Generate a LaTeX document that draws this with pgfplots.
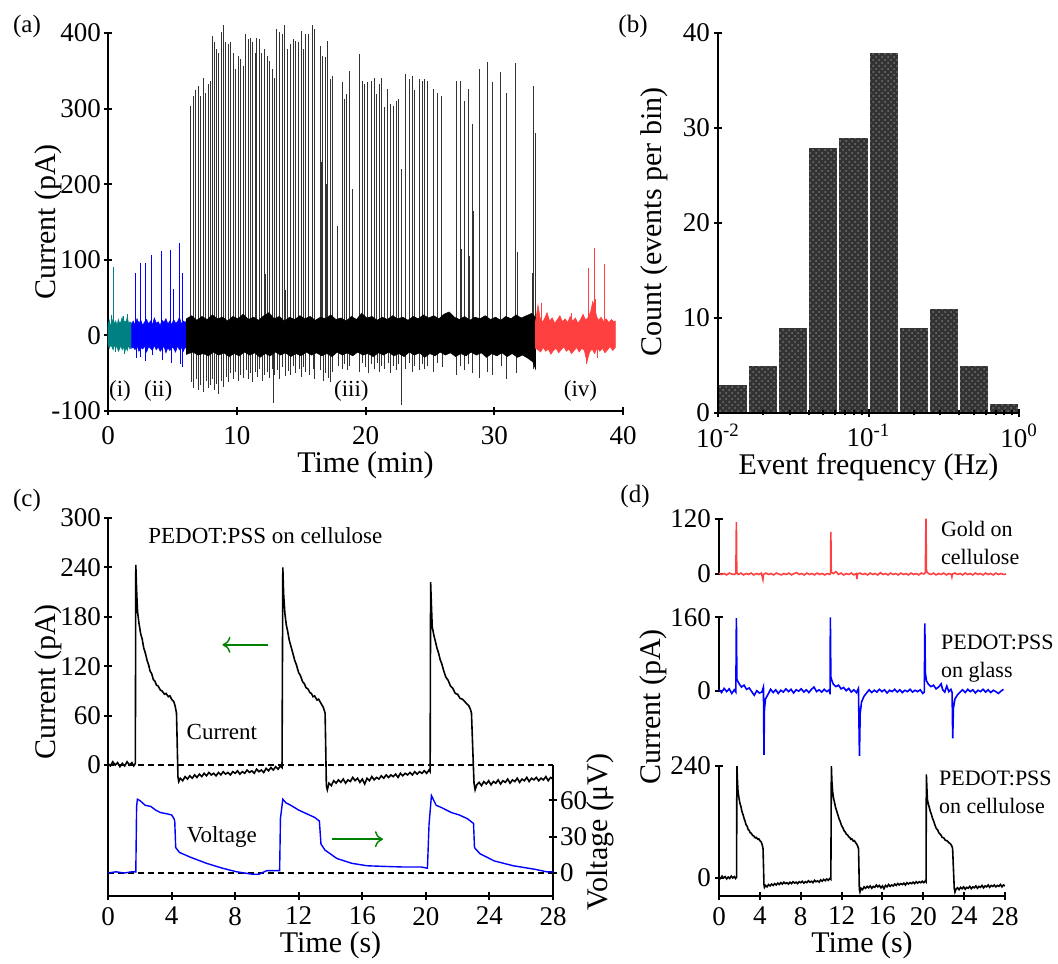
\documentclass[border=0pt]{standalone}
\usepackage{fontspec}
\setmainfont{Liberation Serif}
\usepackage{pgfplots}
\pgfplotsset{compat=1.18}
\usepackage{pgfplotstable}
\usetikzlibrary{patterns,arrows.meta}

\definecolor{tealc}{RGB}{0,128,128}
\definecolor{redc}{RGB}{255,64,64}
\definecolor{greenc}{RGB}{0,128,0}
\newcommand\fL{\fontsize{15}{18}\selectfont}
\newcommand\fT{\fontsize{13.5}{16}\selectfont}
\newcommand\fA{\fontsize{11.5}{14}\selectfont}
\newcommand\fD{\fontsize{11}{14}\selectfont}
\newcommand\fP{\fontsize{12.5}{15}\selectfont}

\pgfplotsset{
  pnl/.style={
    scale only axis, anchor=south west, clip=false,
    axis line style={line width=1pt,-},
    tick align=inside, tick style={black, line width=1pt},
    major tick length=4pt, minor tick length=2.5pt,
    tick label style={font=\fT},
    /pgf/number format/assume math mode=true,
    /pgf/number format/1000 sep={},
  },
  noarr/.style={
    every outer x axis line/.append style={-},
    every outer y axis line/.append style={-},
    every inner x axis line/.append style={-},
    every inner y axis line/.append style={-},
    x axis line style={-}, y axis line style={-},
  }
}

% current trace, PEDOT:PSS on cellulose (pA vs s)
\pgfplotstableread{
t I
0 2
0.15 -1
0.3 4
0.45 0
0.6 3
0.75 -2
0.9 2
1.05 -1
1.2 4
1.35 0
1.5 3
1.62 -1
1.72 2
1.75 243
1.8 212
1.86 186
1.95 172
2.05 160
2.15 153
2.25 142
2.35 136
2.46 127
2.55 122
2.65 114
2.75 111
2.85 104
2.95 102
3.05 97
3.15 96
3.3 91
3.4 90
3.55 86
3.65 87
3.8 83
3.9 84
4.0 80
4.14 77
4.22 72
4.31 63
4.35 30
4.4 -14
4.45 -20
4.55 -16
4.7 -19
4.85 -14
5.0 -17
5.15 -13
5.3 -16
5.45 -12
5.6 -15
5.75 -11
5.9 -14
6.05 -10
6.2 -13
6.35 -9
6.5 -12
6.65 -10
6.8 -13
6.95 -9
7.1 -12
7.25 -8
7.4 -11
7.55 -9
7.7 -12
7.85 -8
8.0 -10
8.15 -7
8.3 -11
8.45 -8
8.6 -10
8.75 -6
8.9 -9
9.05 -7
9.2 -10
9.35 -5
9.5 -8
9.65 -6
9.8 -9
9.95 -4
10.1 -7
10.25 -3
10.4 -6
10.55 -2
10.7 -5
10.85 -1
10.95 -3
11.0 240
11.05 208
11.13 184
11.22 170
11.3 163
11.4 152
11.5 145
11.6 138
11.75 127
11.85 122
12.0 112
12.1 109
12.25 101
12.35 99
12.46 94
12.6 92
12.7 88
12.8 87
12.9 83
13.0 84
13.15 79
13.25 80
13.4 75
13.55 70
13.66 63
13.7 20
13.74 -25
13.8 -30
13.9 -22
14.05 -25
14.2 -19
14.35 -22
14.5 -18
14.65 -21
14.8 -17
14.95 -22
15.1 -18
15.25 -20
15.4 -15
15.55 -19
15.7 -16
15.85 -21
16.0 -17
16.15 -23
16.3 -16
16.45 -19
16.6 -14
16.75 -18
16.9 -15
17.05 -17
17.2 -13
17.35 -16
17.5 -12
17.65 -15
17.8 -12
17.95 -14
18.1 -11
18.25 -15
18.4 -10
18.55 -13
18.7 -10
18.85 -12
19.0 -9
19.15 -12
19.3 -8
19.45 -11
19.6 -8
19.75 -10
19.9 -7
20.05 -10
20.2 -6
20.27 -8
20.3 222
20.35 194
20.4 168
20.5 158
20.6 150
20.7 142
20.8 136
20.9 128
21.0 123
21.1 116
21.25 107
21.4 103
21.55 96
21.7 93
21.85 87
22.0 86
22.15 81
22.3 80
22.45 77
22.6 74
22.7 72
22.8 68
22.87 63
22.95 20
23.03 -22
23.1 -30
23.2 -24
23.35 -21
23.5 -25
23.65 -20
23.8 -23
23.95 -19
24.1 -24
24.25 -20
24.4 -22
24.55 -18
24.7 -23
24.85 -19
25.0 -21
25.15 -17
25.3 -22
25.45 -18
25.6 -20
25.75 -16
25.9 -21
26.05 -17
26.2 -19
26.35 -15
26.5 -20
26.65 -16
26.8 -18
26.95 -15
27.1 -19
27.25 -16
27.4 -18
27.55 -14
27.7 -19
27.85 -15
28.0 -17
}\curtrace

% voltage trace (uV vs s)
\pgfplotstableread{
t V
0 0
0.5 1
1.0 0
1.5 1
1.75 1
1.8 55
1.85 61
2.0 60
2.34 56
2.7 55
3.0 52
3.3 50
3.7 49
4.0 48
4.15 45
4.2 43
4.26 21
4.5 17
5.2 13
6.2 8
7.2 4
8.1 1
9.1 -1
9.5 -1
10.0 2
10.8 2
10.85 45
11.0 61
11.2 58
11.5 56
12.0 52
12.5 49
13.0 46
13.3 43
13.4 24
13.65 19
14.4 12
15.35 8
16.3 6
17.3 5.5
18.5 5
19.7 5
20.1 4
20.2 40
20.35 64
20.5 60
20.65 56
21.0 54
21.6 50
22.1 48
22.6 45
23.0 41
23.06 21
23.4 16
24.3 10
25.5 6
26.9 3
27.6 1
28.0 1
}\volttrace

\begin{document}
\begin{tikzpicture}
\useasboundingbox (0,0) rectangle (529pt,481.5pt);

% ---------------- (a) ----------------
\begin{axis}[pnl, at={(54pt,276pt)}, width=257.5pt, height=189pt,
  axis x line=bottom, axis y line=left,
  xmin=0, xmax=40, ymin=-100, ymax=400,
  xtick={0,10,...,40}, ytick={-100,0,...,400},
  xticklabel style={yshift=-2pt}, yticklabel style={xshift=2pt}, noarr]
% spikes
\addplot[ycomb, tealc, line width=0.5pt] coordinates {(0.4,90) (0.3,27) (1.2,26) (1.5,28) (0.6,-22) (1.3,-24)};
\addplot[ycomb, blue, line width=0.5pt] coordinates {(2.17,83) (2.53,96) (2.95,96) (3.41,107) (4.16,111) (4.86,113) (5.12,62) (5.58,122) (5.79,83)
  (2.2,-30) (2.55,-28) (2.95,-34) (3.45,-26) (4.2,-32) (4.9,-36) (5.6,-38) (5.8,-42)};
\addplot[ycomb, black!80, line width=0.5pt] coordinates {
  (6.41,304) (6.61,317) (6.82,324) (7.0,330) (7.18,317) (7.39,341) (7.6,321) (7.78,332) (7.96,337) (8.09,396)
  (8.24,388) (8.42,379) (8.6,374) (8.81,401) (8.94,410) (9.15,388) (9.35,385) (9.51,388) (9.72,374) (9.9,352)
  (10.1,370) (10.29,366) (10.49,357) (10.7,399) (10.88,392) (11.06,394) (11.22,388) (11.42,374) (11.57,394) (11.78,392)
  (11.96,374) (12.17,379) (12.35,370) (12.56,363) (12.74,352) (12.95,341) (13.12,405) (13.33,401) (13.54,399) (13.74,410)
  (13.98,379) (14.19,385) (14.37,392) (14.57,390) (14.83,388) (15.01,403) (15.19,379) (15.35,399) (15.61,399) (15.92,410)
  (16.05,405) (16.49,383) (16.69,370) (16.9,368) (17.08,390) (17.26,339) (17.42,343) (17.85,145) (18.19,335) (18.37,313)
  (18.55,319) (18.76,350) (19.02,193) (19.53,372) (19.74,337) (19.95,332) (20.18,335) (20.44,337) (20.7,341) (20.88,319)
  (21.09,332) (21.26,341) (21.47,302) (21.73,326) (21.96,306) (22.17,304) (22.38,310) (22.56,313) (22.77,220) (23.1,346)
  (23.41,339) (23.62,343) (23.82,324) (24.19,339) (24.4,337) (24.57,339) (24.83,337) (25.3,326) (25.61,321) (25.94,317)
  (27.03,337) (27.34,337) (27.47,114) (27.67,310) (28.01,326) (28.06,105) (28.32,279) (28.4,165) (28.84,352) (29.48,361)
  (29.87,335) (30.52,349) (30.95,321) (31.68,360) (31.81,110) (32.97,83) (33.05,330) (33.23,268)
  (8.3,145) (11.5,151) (12.25,81) (16.6,230) (17.0,200) (17.3,120) (19.8,86) (13.8,60)
  (6.45,-62) (6.65,-70) (6.85,-58) (7.02,-72) (7.2,-65) (7.4,-75) (7.62,-60) (7.8,-70) (7.98,-66) (8.1,-58)
  (8.26,-72) (8.44,-64) (8.6,-78) (8.82,-60) (8.96,-68) (9.17,-55) (9.37,-62) (9.53,-50) (9.74,-58) (9.92,-48)
  (10.12,-60) (10.3,-52) (10.5,-56) (10.72,-46) (10.9,-58) (11.08,-50) (11.24,-62) (11.44,-48) (11.59,-55) (11.8,-45)
  (11.98,-60) (12.19,-52) (12.37,-48) (12.58,-56) (12.76,-44) (12.85,-90) (12.97,-52) (13.14,-46) (13.35,-58) (13.56,-42)
  (13.76,-54) (14.0,-47) (14.21,-52) (14.39,-40) (14.59,-50) (14.85,-45) (15.03,-55) (15.21,-42) (15.37,-48) (15.63,-52)
  (15.94,-44) (16.07,-58) (16.51,-46) (16.71,-60) (16.92,-50) (17.1,-56) (17.28,-62) (17.44,-48) (17.87,-40) (18.21,-44)
  (18.39,-38) (18.57,-46) (18.78,-40) (19.55,-48) (19.76,-36) (19.97,-42) (20.2,-50) (20.46,-38) (20.72,-44) (20.9,-36)
  (21.11,-48) (21.28,-40) (21.49,-45) (21.75,-36) (21.98,-50) (22.19,-40) (22.4,-46) (22.58,-38) (22.8,-92) (23.12,-44)
  (23.43,-36) (23.64,-48) (23.84,-40) (24.21,-46) (24.42,-38) (24.59,-44) (24.85,-40) (25.32,-48) (25.63,-36) (25.96,-42)
  (27.05,-52) (27.36,-40) (27.69,-46) (28.03,-38) (28.34,-50) (28.86,-56) (29.5,-48) (29.89,-52) (30.54,-40) (30.97,-58)
  (31.7,-50) (33.07,-45)};
\addplot[ycomb, redc, line width=0.5pt] coordinates {(33.65,43) (37.35,89) (37.75,116) (37.9,48) (38.6,94) (36.0,30) (37.2,-38) (38.0,-30)};
% noise bands
\addplot[fill=tealc, draw=tealc, line width=0.3pt] coordinates {
  (0,14) (0.1,20) (0.2,12) (0.3,18) (0.4,22) (0.5,15) (0.6,19) (0.7,13) (0.8,21) (0.9,16) (1.0,18) (1.1,24) (1.2,14)
  (1.3,19) (1.4,17) (1.5,25) (1.6,15) (1.7,18) (1.84,16)
  (1.84,-14) (1.7,-18) (1.6,-13) (1.5,-20) (1.4,-16) (1.3,-22) (1.2,-15) (1.1,-19) (1.0,-13) (0.9,-18) (0.8,-21)
  (0.7,-14) (0.6,-17) (0.5,-12) (0.4,-19) (0.3,-15) (0.2,-13) (0.1,-17) (0,-12)} -- cycle;
\addplot[fill=blue, draw=blue, line width=0.3pt] coordinates {
  (1.84,15) (1.95,19) (2.1,14) (2.25,22) (2.4,16) (2.55,20) (2.7,13) (2.85,18) (3.0,21) (3.15,15) (3.3,19) (3.45,14)
  (3.6,23) (3.75,16) (3.9,18) (4.05,13) (4.2,20) (4.35,17) (4.5,22) (4.65,15) (4.8,19) (4.95,14) (5.1,21) (5.25,16)
  (5.4,18) (5.55,24) (5.7,15) (5.85,19) (6.0,17) (6.1,20)
  (6.1,-18) (6.0,-15) (5.85,-21) (5.7,-16) (5.55,-19) (5.4,-14) (5.25,-22) (5.1,-17) (4.95,-15) (4.8,-20) (4.65,-16)
  (4.5,-23) (4.35,-14) (4.2,-18) (4.05,-21) (3.9,-15) (3.75,-19) (3.6,-13) (3.45,-20) (3.3,-17) (3.15,-15) (3.0,-22)
  (2.85,-14) (2.7,-18) (2.55,-16) (2.4,-21) (2.25,-13) (2.1,-19) (1.95,-15) (1.84,-17)} -- cycle;
\addplot[fill=black, draw=black, line width=0.3pt] coordinates {
  (6.1,22) (6.5,26) (6.9,20) (7.3,25) (7.7,21) (8.1,27) (8.5,22) (8.9,24) (9.3,19) (9.7,25) (10.1,22) (10.5,28)
  (10.9,21) (11.3,24) (11.7,20) (12.1,26) (12.5,30) (12.9,22) (13.3,25) (13.7,19) (14.1,24) (14.5,21) (14.9,26)
  (15.3,22) (15.7,25) (16.1,20) (16.5,24) (16.9,22) (17.3,27) (17.7,21) (18.1,23) (18.5,19) (18.9,25) (19.3,21)
  (19.7,29) (20.1,23) (20.5,25) (20.9,20) (21.3,24) (21.7,21) (22.1,26) (22.5,22) (22.9,24) (23.3,20) (23.7,25)
  (24.1,22) (24.5,27) (24.9,23) (25.3,26) (25.7,22) (26.1,28) (26.5,31) (26.9,24) (27.3,21) (27.7,25) (28.1,20)
  (28.5,24) (28.9,22) (29.3,26) (29.7,21) (30.1,24) (30.5,20) (30.9,25) (31.3,22) (31.7,27) (32.1,23) (32.5,26)
  (32.9,29) (33.2,24)
  (33.2,-44) (33.0,-35) (32.6,-30) (32.2,-26) (31.8,-29) (31.4,-24) (31.0,-28) (30.6,-23) (30.2,-27) (29.8,-24)
  (29.4,-29) (29.0,-23) (28.6,-26) (28.2,-22) (27.8,-27) (27.4,-24) (27.0,-28) (26.6,-23) (26.2,-26) (25.8,-22)
  (25.4,-27) (25.0,-24) (24.6,-29) (24.2,-23) (23.8,-26) (23.4,-22) (23.0,-28) (22.6,-24) (22.2,-27) (21.8,-22)
  (21.4,-26) (21.0,-23) (20.6,-28) (20.2,-24) (19.8,-26) (19.4,-22) (19.0,-27) (18.6,-23) (18.2,-26) (17.8,-22)
  (17.4,-28) (17.0,-24) (16.6,-27) (16.2,-23) (15.8,-26) (15.4,-22) (15.0,-27) (14.6,-24) (14.2,-28) (13.8,-23)
  (13.4,-26) (13.0,-22) (12.6,-27) (12.2,-24) (11.8,-29) (11.4,-23) (11.0,-26) (10.6,-22) (10.2,-27) (9.8,-24)
  (9.4,-28) (9.0,-23) (8.6,-26) (8.2,-22) (7.8,-27) (7.4,-24) (7.0,-26) (6.6,-22) (6.1,-25)} -- cycle;
\addplot[fill=redc, draw=redc, line width=0.3pt] coordinates {
  (33.2,18) (33.4,40) (33.55,24) (33.7,17) (33.9,22) (34.1,30) (34.3,19) (34.5,23) (34.7,16) (34.9,21) (35.1,26)
  (35.3,18) (35.5,22) (35.7,17) (35.9,25) (36.1,19) (36.3,23) (36.5,16) (36.7,21) (36.9,28) (37.1,20) (37.3,24)
  (37.5,32) (37.65,45) (37.8,38) (37.95,25) (38.1,20) (38.3,24) (38.5,18) (38.7,22) (38.9,17) (39.1,21) (39.3,18) (39.4,19)
  (39.4,-16) (39.2,-20) (39.0,-15) (38.8,-19) (38.6,-23) (38.4,-17) (38.2,-21) (38.0,-16) (37.8,-24) (37.6,-18)
  (37.4,-22) (37.2,-35) (37.0,-20) (36.8,-17) (36.6,-22) (36.4,-16) (36.2,-20) (36.0,-24) (35.8,-18) (35.6,-21)
  (35.4,-15) (35.2,-19) (35.0,-23) (34.8,-17) (34.6,-20) (34.4,-25) (34.2,-18) (34.0,-21) (33.8,-16) (33.6,-22)
  (33.4,-19) (33.2,-17)} -- cycle;
\node[font=\fA] at (axis cs:0.93,-73) {(i)};
\node[font=\fA] at (axis cs:3.9,-73) {(ii)};
\node[font=\fA] at (axis cs:18.9,-73) {(iii)};
\node[font=\fA] at (axis cs:36.7,-73) {(iv)};
\end{axis}

% ---------------- (b) ----------------
\begin{axis}[pnl, at={(359pt,275pt)}, width=150.5pt, height=190pt,
  axis x line=bottom, axis y line=left, axis on top,
  xmode=log, xmin=0.01, xmax=1, ymin=0, ymax=40,
  ytick={0,10,...,40}, xtick={0.01,0.1,1},
  xticklabels={10\textsuperscript{-2},10\textsuperscript{-1},10\textsuperscript{0}},
  xticklabel style={yshift=0pt}, yticklabel style={xshift=1.5pt}, noarr]
\addplot[ybar interval, fill=black!80, draw=white, line width=1pt,
  postaction={pattern=crosshatch dots, pattern color=black!55}] coordinates {
  (0.01,3) (0.015849,5) (0.025119,9) (0.039811,28) (0.063096,29) (0.1,38)
  (0.158489,9) (0.251189,11) (0.398107,5) (0.630957,1) (1,1)};
\end{axis}

% ---------------- (c) ----------------
\begin{axis}[pnl, at={(54pt,33.5pt)}, width=222.5pt, height=189pt,
  axis x line=bottom, axis y line=left,
  xmin=0, xmax=28, ymin=-159, ymax=300,
  xtick={0,4,...,28}, ytick={0,60,...,300},
  yticklabel style={xshift=2pt}, noarr]
\addplot[black, dash pattern=on 3pt off 2pt, line width=0.8pt] coordinates {(0,0) (28,0)};
\addplot[black, line width=0.8pt] table[x=t, y=I] {\curtrace};
\node[font=\fA] at (axis cs:9.9,278) {PEDOT:PSS on cellulose};
\node[font=\fA] at (axis cs:7.16,40) {Current};
\node[font=\fA] at (axis cs:7.16,-87) {Voltage};
\draw[greenc, line width=0.7pt, -{To[length=4pt,width=8pt]}] (axis cs:10.05,146) -- (axis cs:7.2,146);
\draw[greenc, line width=0.7pt, -{To[length=4pt,width=8pt]}] (axis cs:14.1,-90) -- (axis cs:17.3,-90);
\end{axis}
\begin{axis}[pnl, at={(54pt,33.5pt)}, width=222.5pt, height=65.5pt,
  axis x line=none, axis y line=right,
  xmin=0, xmax=28, ymin=-19, ymax=89.3,
  xtick=\empty, ytick={0,30,60},
  yticklabel style={xshift=-2pt}, noarr]
\addplot[black, dash pattern=on 3pt off 2pt, line width=0.8pt] coordinates {(0,0) (28,0)};
\addplot[blue, line width=0.7pt] table[x=t, y=V] {\volttrace};
\end{axis}

% ---------------- (d) ----------------
\begin{axis}[pnl, at={(359.5pt,194.5pt)}, width=143pt, height=27.5pt,
  axis x line=none, axis y line=left,
  xmin=0, xmax=28, ymin=0, ymax=120, xtick=\empty, ytick={0,120},
  yticklabel style={xshift=1.5pt}, noarr]
\addplot[redc, line width=0.8pt] coordinates {
  (0,2) (0.25,-1) (0.5,1) (0.75,-2) (1.0,2) (1.25,0) (1.5,-1) (1.65,1) (1.7,113) (1.74,3) (1.9,-1) (2.15,2) (2.4,-2)
  (2.65,1) (2.9,-1) (3.15,2) (3.4,-2) (3.65,1) (3.9,-1) (4.15,2) (4.3,-12) (4.35,-1) (4.6,2) (4.85,-1) (5.1,1)
  (5.35,-2) (5.6,2) (5.85,0) (6.1,-2) (6.35,1) (6.6,-1) (6.85,2) (7.1,-2) (7.35,1) (7.6,3) (7.85,-1) (8.1,1)
  (8.35,-2) (8.6,2) (8.85,-1) (9.1,1) (9.35,-2) (9.6,2) (9.85,-1) (10.1,1) (10.35,-2) (10.6,1) (10.85,-1) (10.92,2)
  (10.95,92) (10.99,4) (11.2,1) (11.45,5) (11.7,-1) (11.95,2) (12.2,-2) (12.45,1) (12.7,-1) (12.95,2) (13.2,-2)
  (13.45,1) (13.5,-11) (13.55,0) (13.8,2) (14.05,-1) (14.3,1) (14.55,-2) (14.8,2) (15.05,-1) (15.3,1) (15.55,-2)
  (15.8,3) (16.05,-1) (16.3,1) (16.55,-2) (16.8,2) (17.05,-1) (17.3,1) (17.55,-2) (17.8,2) (18.05,-1) (18.3,1)
  (18.55,-2) (18.8,2) (19.05,-1) (19.3,1) (19.55,-2) (19.8,2) (20.05,0) (20.2,3) (20.26,121) (20.31,6) (20.5,1)
  (20.75,-1) (21.0,2) (21.25,-2) (21.5,1) (21.75,-1) (22.0,2) (22.25,-2) (22.5,1) (22.75,-1) (22.8,-6) (22.85,0)
  (23.1,2) (23.35,-1) (23.6,1) (23.85,-2) (24.1,2) (24.35,-1) (24.6,1) (24.85,-2) (25.1,2) (25.35,-1) (25.6,1)
  (25.85,-2) (26.1,2) (26.35,-1) (26.6,1) (26.85,-2) (27.1,2) (27.35,-1) (27.6,1) (27.85,-1) (28.1,0)};
\end{axis}
\begin{axis}[pnl, at={(359.5pt,136.15pt)}, width=143pt, height=36.7pt,
  axis x line=none, axis y line=left,
  xmin=0, xmax=28, ymin=0, ymax=160, xtick=\empty, ytick={0,160},
  yticklabel style={xshift=1.5pt}, noarr]
\addplot[blue, line width=0.8pt] coordinates {
  (0,3) (0.25,-4) (0.5,5) (0.75,-2) (1.0,4) (1.25,-6) (1.5,2) (1.65,-3) (1.7,158) (1.75,25) (1.85,20) (2.0,14)
  (2.2,8) (2.45,12) (2.7,3) (2.95,6) (3.2,-2) (3.45,-10) (3.7,0) (3.95,-5) (4.2,-3) (4.35,8) (4.4,-140) (4.45,-40)
  (4.55,-18) (4.8,-8) (5.05,3) (5.3,-4) (5.55,2) (5.8,-6) (6.05,1) (6.3,-3) (6.55,4) (6.8,-2) (7.05,3) (7.3,-5)
  (7.55,2) (7.8,-1) (8.05,4) (8.3,-3) (8.55,2) (8.8,-4) (9.05,3) (9.3,8) (9.55,-2) (9.8,2) (10.05,-3) (10.3,3)
  (10.55,-2) (10.8,2) (10.88,-8) (10.9,160) (10.95,30) (11.05,22) (11.2,14) (11.45,9) (11.7,12) (11.95,4) (12.2,7)
  (12.45,0) (12.7,5) (12.95,-3) (13.2,2) (13.45,-4) (13.65,5) (13.75,-142) (13.82,-50) (13.95,-25) (14.2,-12)
  (14.45,-5) (14.7,2) (14.95,-4) (15.2,1) (15.45,-3) (15.7,3) (15.95,-2) (16.2,2) (16.45,-5) (16.7,1) (16.95,-2)
  (17.2,3) (17.45,-3) (17.7,2) (17.95,-4) (18.2,1) (18.45,-2) (18.7,3) (18.95,-3) (19.2,1) (19.45,-2) (19.7,2)
  (19.95,-6) (20.1,-3) (20.15,147) (20.2,40) (20.3,22) (20.5,14) (20.75,9) (21.0,12) (21.25,4) (21.5,8) (21.75,15)
  (21.9,2) (22.1,-3) (22.3,10) (22.5,-2) (22.7,3) (22.82,-4) (22.88,-104) (22.95,-38) (23.1,-18) (23.35,-9)
  (23.6,-3) (23.85,2) (24.1,-4) (24.35,3) (24.6,-2) (24.85,2) (25.1,-5) (25.35,1) (25.6,-2) (25.85,3) (26.1,-3)
  (26.35,2) (26.6,-4) (26.85,1) (27.1,-2) (27.35,-6) (27.6,-1) (27.85,3)};
\end{axis}
\begin{axis}[pnl, at={(359.5pt,33.5pt)}, width=143pt, height=65pt,
  axis x line=bottom, axis y line=left,
  xmin=0, xmax=28, ymin=-38.6, ymax=240,
  xtick={0,4,...,28}, ytick={0,240},
  yticklabel style={xshift=1.5pt}, clip=true, noarr]
\addplot[black, line width=0.8pt] table[x=t, y=I] {\curtrace};
\end{axis}

% labels
\node[font=\fP] at (13.5pt,468pt) {(a)};
\node[font=\fP] at (316.5pt,468pt) {(b)};
\node[font=\fP] at (13.5pt,231.5pt) {(c)};
\node[font=\fP] at (317.5pt,233.5pt) {(d)};
\node[font=\fL, rotate=90] at (24pt,370.5pt) {Current (pA)};
\node[font=\fL] at (182.75pt,249pt) {Time (min)};
\node[font=\fL, rotate=90] at (327pt,370.5pt) {Count (events per bin)};
\node[font=\fL] at (434.25pt,248pt) {Event frequency (Hz)};
\node[font=\fL, rotate=90] at (24pt,140.5pt) {Current (pA)};
\node[font=\fL] at (165.25pt,9pt) {Time (s)};
\node[font=\fL, rotate=90] at (300pt,65.5pt) {Voltage (μV)};
\node[font=\fL, rotate=90] at (326.5pt,128pt) {Current (pA)};
\node[font=\fL] at (431pt,9pt) {Time (s)};
\node[font=\fD, align=left, anchor=west] at (467pt,210pt) {Gold on\\cellulose};
\node[font=\fD, align=left, anchor=west] at (467pt,152pt) {PEDOT:PSS\\on glass};
\node[font=\fD, align=left, anchor=west] at (466pt,85.5pt) {PEDOT:PSS\\on cellulose};
\end{tikzpicture}
\end{document}
